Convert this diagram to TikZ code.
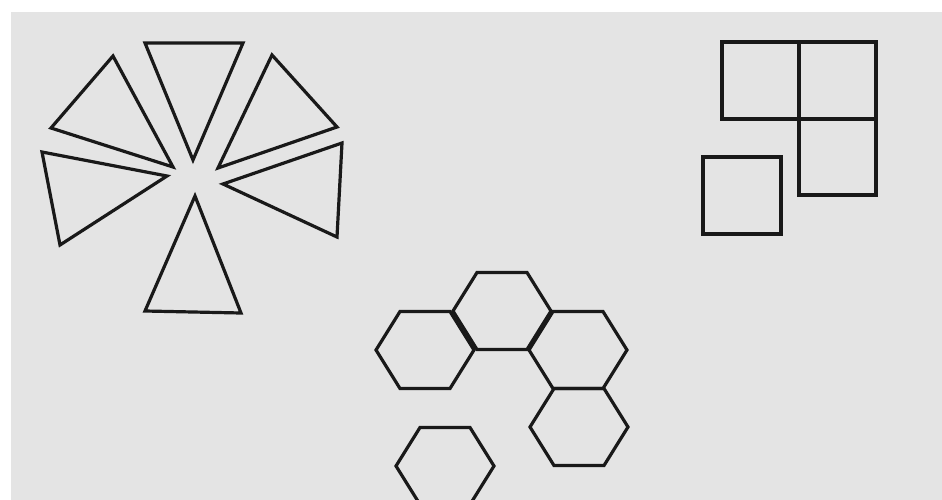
\documentclass[tikz,border=0pt]{standalone}
\definecolor{paper}{RGB}{228,228,228}
\tikzset{
  shape line/.style={draw=black!90, line width=3.2pt, line join=miter},
  hexa/.style={shape line},
}
\newcommand{\myhex}[2]{%
  \draw[hexa] (#1-49,#2) -- (#1-25,#2-38.5) -- (#1+25,#2-38.5) -- (#1+49,#2) -- (#1+25,#2+38.5) -- (#1-25,#2+38.5) -- cycle;}
\begin{document}
\begin{tikzpicture}[x=1pt,y=-1pt]
\useasboundingbox (0,0) rectangle (942,500);
\clip (0,0) rectangle (942,500);
\fill[white] (0,0) rectangle (942,500);
\fill[paper] (11,12) rectangle (942,500);
% triangles
\draw[shape line] (145,43) -- (243,43) -- (193,160) -- cycle;
\draw[shape line] (113,56) -- (51,128) -- (173,167) -- cycle;
\draw[shape line] (272,55) -- (337,127) -- (218,168) -- cycle;
\draw[shape line] (42,152) -- (60,245) -- (167,176) -- cycle;
\draw[shape line] (342,143) -- (337,237) -- (223,184) -- cycle;
\draw[shape line] (195,196) -- (145,311) -- (241,313) -- cycle;
% squares
\draw[shape line] (722,42) rectangle (799,119);
\draw[shape line] (799,42) rectangle (876,119);
\draw[shape line] (799,119) rectangle (876,195);
\draw[shape line] (703,157) rectangle (781,234);
% hexagons
\myhex{502}{311}
\myhex{425}{350}
\myhex{578}{350}
\myhex{579}{427}
\myhex{445}{466}
\end{tikzpicture}
\end{document}
